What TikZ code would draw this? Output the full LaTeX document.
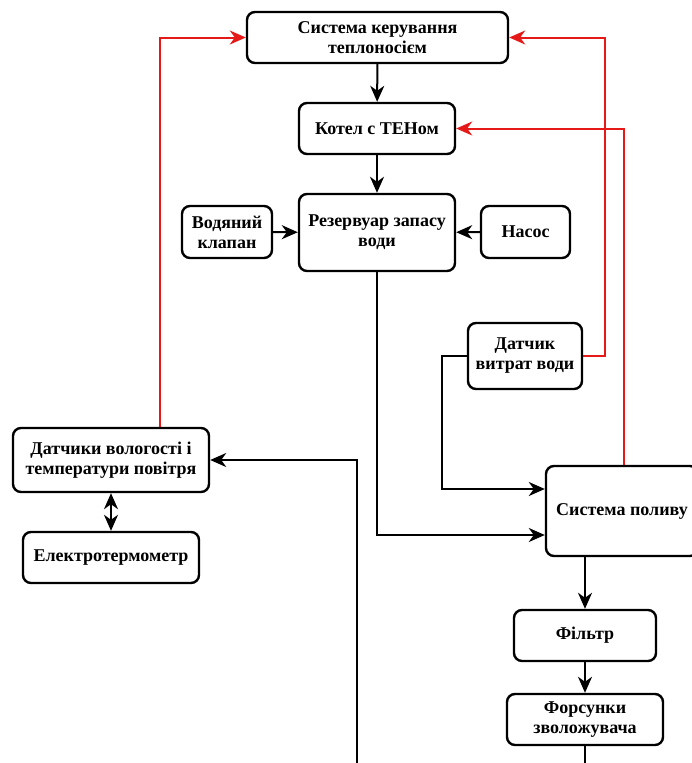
\documentclass[tikz,border=0pt]{standalone}
\usepackage{fontspec}
\setmainfont{Liberation Serif}
\usepackage{xcolor}
\usetikzlibrary{arrows.meta,positioning,calc}

\definecolor{linkred}{RGB}{230,25,25}

\begin{document}
\begin{tikzpicture}[
  x=1pt, y=-1pt,
  box/.style={draw, rounded corners=8pt, line width=2.4pt, inner sep=2pt,
    font=\bfseries\fontsize{18}{20}\selectfont, align=center},
  arr/.style={-{Stealth[length=16pt,width=14pt,inset=5pt]}, line width=2pt},
  dblarr/.style={{Stealth[length=16pt,width=14pt,inset=5pt]}-{Stealth[length=16pt,width=14pt,inset=5pt]}, line width=2pt},
  redarr/.style={arr, draw=linkred, color=linkred}
]
\useasboundingbox (0,0) rectangle (692,763);
\clip (0,0) rectangle (692,763);

% top chain
\node[box, minimum width=261pt, minimum height=51pt] (keruv) at (377.5,37.5) {Система керування\\теплоносієм};
\node[box, minimum width=156pt, minimum height=51pt] (kotel) at (377,128.5) {Котел с ТЕНом};
\node[box, minimum width=156pt, minimum height=77pt] (rezerv) at (377,232.5) {Резервуар запасу\\води};
\node[box, minimum width=90pt, minimum height=52pt] (klapan) at (227,232) {Водяний\\клапан};
\node[box, minimum width=89pt, minimum height=52pt] (nasos) at (525.5,232) {Насос};

% sensors
\node[box, minimum width=114pt, minimum height=66pt] (vytraty) at (525,356) {Датчик\\витрат води};
\node[box, minimum width=196pt, minimum height=64pt] (datchyky) at (111,460) {Датчики вологості і\\температури повітря};
\node[box, minimum width=176pt, minimum height=51pt] (termo) at (111,557.5) {Електротермометр};

% watering
\node[box, minimum width=152pt, minimum height=90pt] (poliv) at (622,511) {Система поливу};
\node[box, minimum width=142pt, minimum height=51pt] (filtr) at (585,635.5) {Фільтр};
\node[box, minimum width=156pt, minimum height=51pt] (forsunky) at (585,719.5) {Форсунки\\зволожувача};

\coordinate (botA) at (357,770);
\coordinate (botB) at (585,770);

\draw[arr] (keruv) -- (kotel);
\draw[arr] (kotel) -- (rezerv);
\draw[arr] (klapan) -- (rezerv);
\draw[arr] (nasos) -- (rezerv);
\draw[arr] (rezerv.south) |- ([yshift=-24pt]poliv.west);
\draw[arr] (vytraty.west) -- ++(-25,0) |- ([yshift=22pt]poliv.west);
\draw[arr] ([xshift=-37pt]poliv.south) -- (filtr.north);
\draw[arr] (filtr) -- (forsunky);
\draw[line width=2pt] (forsunky.south) -- (botB);
\draw[arr] (botA) |- (datchyky.east);
\draw[dblarr] (datchyky) -- (termo);

% feedback
\draw[redarr] ([xshift=49pt]datchyky.north) |- (keruv.west);
\draw[redarr] (vytraty.east) -- ++(22,0) |- (keruv.east);
\draw[redarr] ([xshift=2pt]poliv.north) |- (kotel.east);
\end{tikzpicture}
\end{document}
